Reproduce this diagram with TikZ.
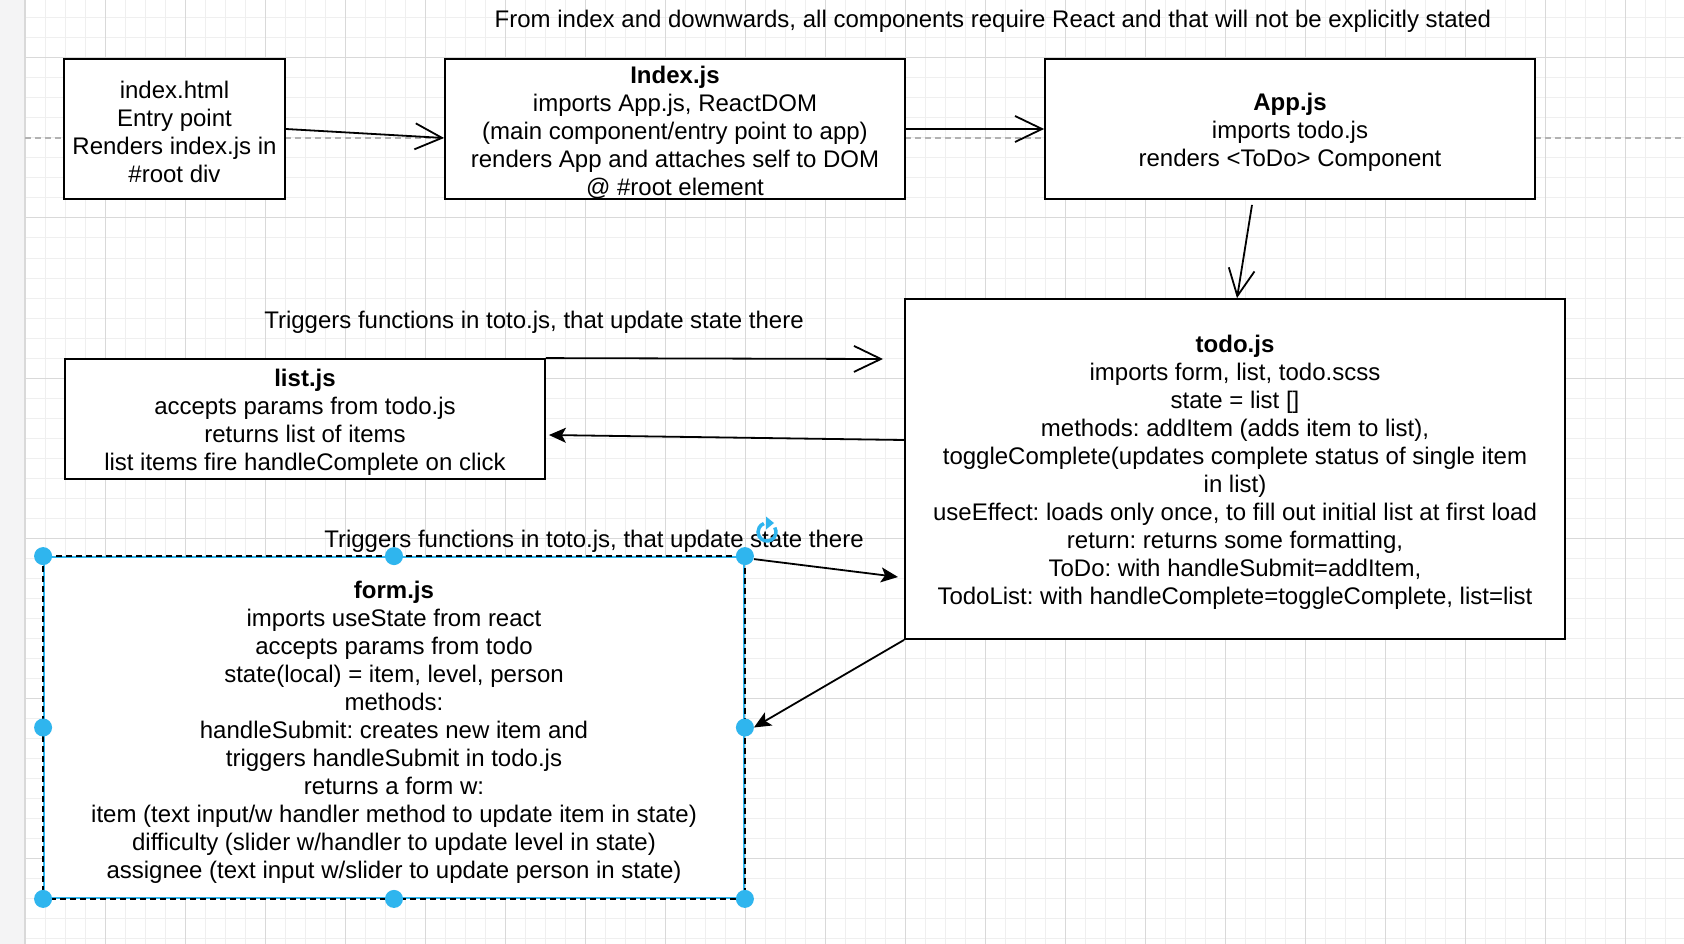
\documentclass[tikz,border=0pt]{standalone}
\usepackage{fontspec}
\setmainfont{Liberation Sans}
\usetikzlibrary{arrows.meta}
\definecolor{gridminor}{HTML}{EFEFEF}
\definecolor{gridmajor}{HTML}{D9D9D9}
\definecolor{handleblue}{HTML}{2FB5EE}
\definecolor{stripgray}{HTML}{F4F4F5}
\newcommand{\fsz}{\fontsize{24}{28}\selectfont\frenchspacing}
\tikzset{
  box/.style={draw, line width=1.8pt, fill=white, inner sep=0pt},
  lbl/.style={inner sep=0pt, align=center, font=\fsz},
  boxtext/.style={lbl, yshift=-3pt},
  openarr/.style={line width=1.8pt, -{Straight Barb[length=27pt,width=26pt,line width=1.8pt]}},
  fillarr/.style={line width=1.8pt, -{Stealth[length=17pt,width=15pt,inset=4pt]}},
  handle/.style={circle, fill=handleblue, inner sep=0pt, minimum size=18pt},
}
\begin{document}
\frenchspacing
\begin{tikzpicture}[x=1pt,y=-1pt]
\useasboundingbox (0,0) rectangle (1684,944);
\fill[white] (0,0) rectangle (1684,944);
\begin{scope}
\clip (0,0) rectangle (1684,944);
\foreach \x in {25,45,...,1700} \draw[gridminor, line width=1pt] (\x,0) -- (\x,944);
\foreach \y in {18,38,...,960} \draw[gridminor, line width=1pt] (0,\y) -- (1684,\y);
\foreach \x in {25,105,...,1700} \draw[gridmajor, line width=1pt] (\x,0) -- (\x,944);
\foreach \y in {58,218,...,960} \draw[gridmajor, line width=1pt] (0,\y) -- (1684,\y);
\draw[gray!60, line width=1.2pt, dash pattern=on 6pt off 4pt] (25,138) -- (1684,138);
\fill[stripgray] (0,0) rectangle (24,944);
\draw[gridmajor, line width=1pt] (24,0) -- (24,944);
\end{scope}

\node[lbl] (top) at (993,21) {From index and downwards, all components require React and that will not be explicitly stated};

\node[box, minimum width=221pt, minimum height=140pt,
  label={[boxtext]center:{index.html\\Entry point\\Renders index.js in\\\#root div}}] (html) at (174.5,129) {};
\node[box, minimum width=460pt, minimum height=140pt,
  label={[boxtext]center:{\textbf{Index.js}\\imports App.js, ReactDOM\\(main component/entry point to app)\\renders App and attaches self to DOM\\@ \#root element}}] (indexjs) at (675,129) {};
\node[box, minimum width=490pt, minimum height=140pt,
  label={[boxtext]center:{\textbf{App.js}\\imports todo.js\\renders <ToDo> Component}}] (app) at (1290,129) {};
\node[box, minimum width=660pt, minimum height=340pt,
  label={[boxtext]center:{\textbf{todo.js}\\imports form, list, todo.scss\\state = list []\\methods: addItem (adds item to list),\\toggleComplete(updates complete status of single item\\in list)\\useEffect: loads only once, to fill out initial list at first load\\return: returns some formatting,\\ToDo: with handleSubmit=addItem,\\TodoList: with handleComplete=toggleComplete, list=list}}] (todo) at (1235,469) {};
\node[box, minimum width=480pt, minimum height=120pt,
  label={[boxtext]center:{\textbf{list.js}\\accepts params from todo.js\\returns list of items\\list items fire handleComplete on click}}] (list) at (305,419) {};
\node[box, draw=handleblue, minimum width=700pt, minimum height=341pt,
  label={[boxtext, yshift=-1.5pt]center:{\textbf{form.js}\\imports useState from react\\accepts params from todo\\state(local) = item, level, person\\methods:\\handleSubmit: creates new item and\\triggers handleSubmit in todo.js\\returns a form w:\\item (text input/w handler method to update item in state)\\difficulty (slider w/handler to update level in state)\\assignee (text input w/slider to update person in state)}}] (form) at (394,727.5) {};
\draw[black, line width=1.8pt, dash pattern=on 6pt off 4pt] (form.north west) rectangle (form.south east);

\node[lbl] (lab1) at (534,322) {Triggers functions in toto.js, that update state there};
\node[lbl] (lab2) at (594,541) {Triggers functions in toto.js, that update state there};

\coordinate (c4) at (883,359);
\coordinate (c6) at (898,577);

\draw[openarr] (html.east) -- ([yshift=-9pt]indexjs.west);
\draw[openarr] (indexjs.east) -- (app.west);
\draw[openarr] ([xshift=-38pt,yshift=-5pt]app.south) -- ([xshift=2pt]todo.north);
\draw[openarr] (list.north east) -- (c4);
\draw[fillarr] ([yshift=29pt]todo.west) -- ([xshift=3pt,yshift=-16pt]list.east);
\draw[fillarr] ([xshift=9pt,yshift=-3pt]form.north east) -- (c6);
\draw[fillarr] (todo.south west) -- ([xshift=9pt]form.east);

\foreach \a in {north west,north,north east,west,east,south west,south,south east}
  \node[handle] at (form.\a) {};

\coordinate (rot) at (767,532);
\draw[handleblue, line width=3.5pt]
  ([shift={(-30:9)}]rot) arc[start angle=-30, end angle=250, radius=9];
\fill[handleblue] ([shift={(7,-9)}]rot) -- ([shift={(-1,-15.5)}]rot) -- ([shift={(-1,-2.5)}]rot) -- cycle;
\end{tikzpicture}
\end{document}
